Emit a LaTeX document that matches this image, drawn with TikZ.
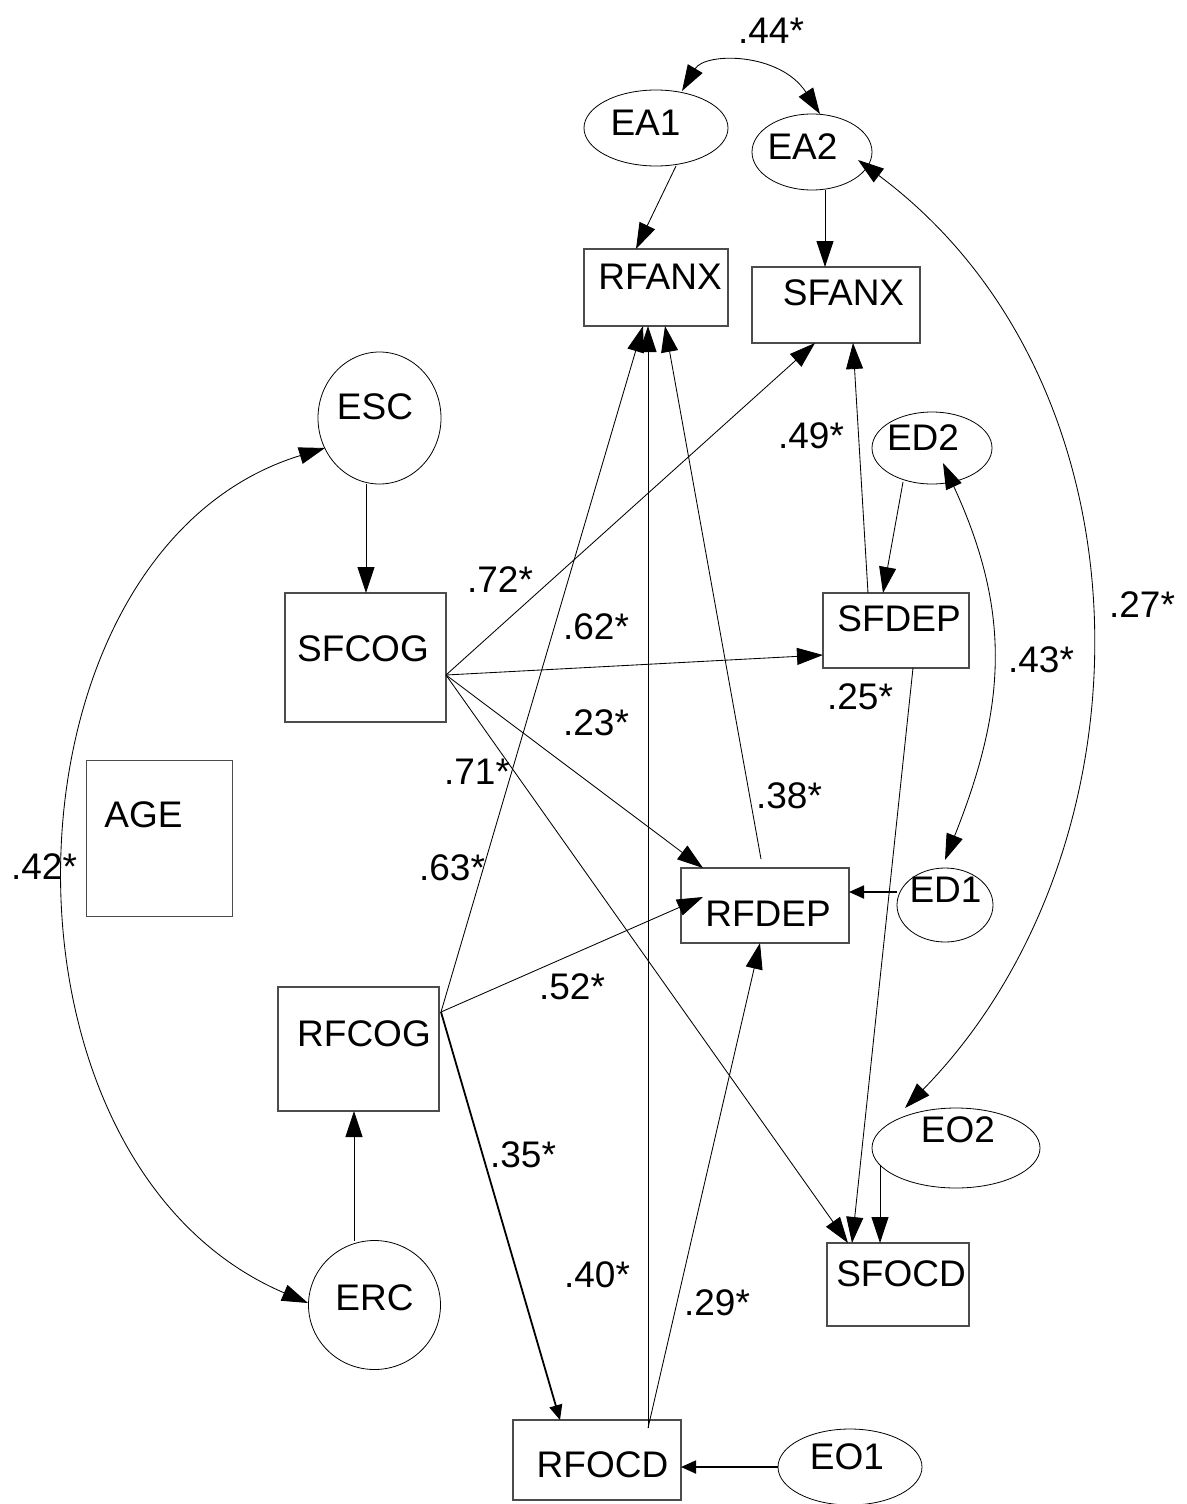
\documentclass[tikz,border=0pt]{standalone}
\usepackage{fontspec}
\setmainfont{Liberation Sans}
\usetikzlibrary{arrows.meta,shapes.geometric}

\begin{document}
\begin{tikzpicture}[x=1pt,y=-1pt,
  every node/.style={font=\fontsize{37}{40}\selectfont, inner sep=0pt, outer sep=0pt},
  box/.style={draw=black!70, line width=1.1pt, rectangle},
  oval/.style={draw=black, line width=0.8pt, ellipse},
  link/.style={line width=0.85pt, -{Triangle[length=26pt,width=17pt]}},
  boldlink/.style={line width=1.8pt, -{Triangle[length=15pt,width=13pt]}},
  cov/.style={line width=0.85pt, {Triangle[length=26pt,width=17pt]}-{Triangle[length=26pt,width=17pt]}}
]
\useasboundingbox (0,0) rectangle (1186,1504);

% ---- observed variables (boxes) ----
\node[box, minimum width=144pt, minimum height=77pt]  (RFANX) at (656,287.5) {};
\node[box, minimum width=168pt, minimum height=76pt]  (SFANX) at (836,305) {};
\node[box, minimum width=161pt, minimum height=129pt] (SFCOG) at (365.5,657.5) {};
\node[box, minimum width=146pt, minimum height=156pt] (AGE)   at (159.5,838.5) {};
\node[box, minimum width=146pt, minimum height=75pt]  (SFDEP) at (896,630.5) {};
\node[box, minimum width=168pt, minimum height=75pt]  (RFDEP) at (765,905.5) {};
\node[box, minimum width=161pt, minimum height=124pt] (RFCOG) at (358.5,1049) {};
\node[box, minimum width=142pt, minimum height=83pt]  (SFOCD) at (898,1284.5) {};
\node[box, minimum width=168pt, minimum height=80pt]  (RFOCD) at (597,1460) {};

% ---- error terms (ellipses) ----
\node[oval, minimum width=144pt, minimum height=76pt]  (EA1) at (656,128) {};
\node[oval, minimum width=120pt, minimum height=76pt]  (EA2) at (812,152) {};
\node[oval, minimum width=123pt, minimum height=132pt] (ESC) at (379.5,418) {};
\node[oval, minimum width=120pt, minimum height=72pt]  (ED2) at (932,448) {};
\node[oval, minimum width=96pt,  minimum height=74pt]  (ED1) at (945,905) {};
\node[oval, minimum width=132pt, minimum height=129pt] (ERC) at (374.5,1305) {};
\node[oval, minimum width=168pt, minimum height=80pt]  (EO2) at (956,1148) {};
\node[oval, minimum width=144pt, minimum height=76pt]  (EO1) at (850,1467) {};

% ---- names ----
\node (RFANX-t) at (660,276.5)  {RFANX};
\node (SFANX-t) at (843.5,293)  {SFANX};
\node (SFCOG-t) at (363,648.5)  {SFCOG};
\node (AGE-t)   at (143.5,815)  {AGE};
\node (SFDEP-t) at (899,618.5)  {SFDEP};
\node (RFDEP-t) at (768,913.5)  {RFDEP};
\node (RFCOG-t) at (364,1034)   {RFCOG};
\node (SFOCD-t) at (901,1273.5) {SFOCD};
\node (RFOCD-t) at (602.5,1465) {RFOCD};
\node (EA1-t)   at (645.5,122.5) {EA1};
\node (EA2-t)   at (802.5,147)  {EA2};
\node (ESC-t)   at (375,406.5)  {ESC};
\node (ED2-t)   at (923,437.5)  {ED2};
\node (ED1-t)   at (945.5,890)  {ED1};
\node (ERC-t)   at (374.5,1297.5) {ERC};
\node (EO2-t)   at (958,1130)   {EO2};
\node (EO1-t)   at (847,1456.5) {EO1};

% ---- path coefficients ----
\node (c44) at (771,31)    {.44*};
\node (c49) at (811,436)   {.49*};
\node (c27) at (1142,605)  {.27*};
\node (c43) at (1041,660)  {.43*};
\node (c25) at (860,697)   {.25*};
\node (c72) at (500,580)   {.72*};
\node (c62) at (596,627)   {.62*};
\node (c23) at (596,723)   {.23*};
\node (c71) at (477,772)   {.71*};
\node (c63) at (452,868)   {.63*};
\node (c38) at (789,796)   {.38*};
\node (c52) at (572,987)   {.52*};
\node (c35) at (523,1155)  {.35*};
\node (c40) at (597,1275)  {.40*};
\node (c29) at (717,1303)  {.29*};
\node (c42) at (44,867)    {.42*};

% ---- ports where several paths leave a box ----
\coordinate (SFCOG-p) at ([shift={(80.5,17.5)}]SFCOG.center);
\coordinate (RFCOG-p) at ([shift={(82.5,-37)}]RFCOG.center);
\coordinate (RFOCD-p) at ([shift={(51,-32)}]RFOCD.center);

% ---- error terms to variables ----
\draw[link] ([shift={(20,38)}]EA1.center) -- ([shift={(-20,-38.5)}]RFANX.center);
\draw[link] ([shift={(13,38)}]EA2.center) -- ([shift={(-11,-38)}]SFANX.center);
\draw[link] ([shift={(-13.5,66)}]ESC.center) -- ([shift={(0.5,-64.5)}]SFCOG.center);
\draw[link] ([shift={(-29,34)}]ED2.center) -- ([shift={(-13,-37.5)}]SFDEP.center);
\draw[link] ([shift={(-76,17)}]EO2.center) -- ([shift={(-18,-41.5)}]SFOCD.center);
\draw[link] ([shift={(-20.5,-64)}]ERC.center) -- ([shift={(-4.5,62)}]RFCOG.center);
\draw[boldlink] ([shift={(-48,-13)}]ED1.center) -- ([shift={(84,-13.5)}]RFDEP.center);
\draw[boldlink] ([shift={(-72,0)}]EO1.center) -- ([shift={(84,7)}]RFOCD.center);

% ---- structural paths ----
\draw[link] (SFCOG-p) -- ([shift={(-21,38)}]SFANX.center);
\draw[link] (SFCOG-p) -- ([shift={(-73,24.5)}]SFDEP.center);
\draw[link] (SFCOG-p) -- ([shift={(-62,-37.5)}]RFDEP.center);
\draw[link] (SFCOG-p) -- ([shift={(-50,-41.5)}]SFOCD.center);
\draw[link] (RFCOG-p) -- ([shift={(-13,38.5)}]RFANX.center);
\draw[link] (RFCOG-p) -- ([shift={(-62,-8.5)}]RFDEP.center);
\draw[boldlink] (RFCOG-p) -- ([shift={(-37,-40)}]RFOCD.center);
\draw[link] (RFOCD-p) -- ([shift={(-8,38.5)}]RFANX.center);
\draw[link] (RFOCD-p) -- ([shift={(-5,37.5)}]RFDEP.center);
\draw[link] ([shift={(-4,-46.5)}]RFDEP.center) -- ([shift={(9,38.5)}]RFANX.center);
\draw[link] ([shift={(-28,-37.5)}]SFDEP.center) -- ([shift={(17,38)}]SFANX.center);
\draw[link] ([shift={(17,37.5)}]SFDEP.center) -- ([shift={(-46,-41.5)}]SFOCD.center);

% ---- correlated errors ----
\draw[cov] ([shift={(26,-37)}]EA1.center) .. controls (705,52) and (780,52) .. ([shift={(8,-38)}]EA2.center);
\draw[cov] ([shift={(-54.5,30)}]ESC.center) .. controls (-8,550) and (-25,1161) .. ([shift={(-66.5,-2)}]ERC.center);
\draw[cov] ([shift={(11,15)}]ED2.center) .. controls (1012,613) and (1006,707) .. ([shift={(0,-45)}]ED1.center);
\draw[cov] ([shift={(46,8)}]EA2.center) .. controls (1160,385) and (1158,849) .. ([shift={(-51,-40)}]EO2.center);
\end{tikzpicture}
\end{document}
